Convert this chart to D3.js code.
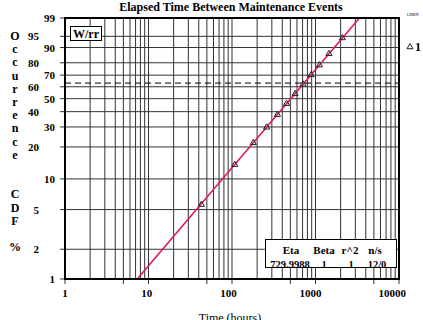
<!DOCTYPE html>
<html>
<head>
<meta charset="utf-8">
<script src="https://cdn.jsdelivr.net/npm/d3@7"></script>
<style>
	body { margin: 0; background: #fff; }
	svg { display: block; }
	text { font-family: "Liberation Serif", "Times New Roman", serif; }
</style>
</head>
<body>
<div id="chart"></div>
<script>
// Weibull plot, elapsed time between maintenance events

var width = 423,
	height = 320;

// data
var times = [43, 108, 180, 260, 350, 450, 570, 710, 885, 1115, 1450, 2100];
var cdfPct = [5.6, 13.7, 21.8, 29.8, 37.9, 46.0, 54.0, 62.1, 70.2, 78.2, 86.3, 94.4];
var eta = 729.9988,
	beta = 1;

var xTickLabels = [1, 10, 100, 1000, 10000];
var xSmallTicks = [1, 5, 10, 50, 100, 500, 1000, 5000, 10000];
var yGrid = [2, 5, 10, 20, 30, 40, 50, 60, 70, 80, 90, 95];
var yLabelsRight = [99, 90, 70, 50, 30, 10, 1];
var yLabelsLeft = [95, 80, 60, 40, 20, 5, 2];
var yTitle = ["O", "c", "c", "u", "r", "r", "e", "n", "c", "e", "", "", "C", "D", "F", "", "%"];
var tableHead = ["Eta", "Beta", "r^2", "n/s"];
var tableVals = ["729.9988", "1", "1", "12/0"];

// plot frame (window.top is taken, so prefixed names)
var pLeft = 65, pRight = 399, pTop = 18, pBottom = 279;

var svg = d3.select("#chart").append("svg")
	.attr("width", width)
	.attr("height", height);

var x = d3.scaleLog().domain([1, 10000]).range([pLeft, pRight]);

// weibull probability scale: ln(-ln(1-F))
function wb(p){ return Math.log(-Math.log(1 - p / 100)); }
var yLin = d3.scaleLinear().domain([wb(1), wb(99)]).range([pBottom, pTop]);
function y(p){ return yLin(wb(p)); }

// vertical grid, 1..9 in each decade
var xGrid = [];
for (var d = 0; d < 4; d++){
	for (var k = 1; k <= 9; k++){
		xGrid.push(k * Math.pow(10, d));
	}
}

var grid = svg.append("g").attr("class", "grid");

grid.selectAll(".vg")
	.data(xGrid)
	.enter()
	.append("line")
	.attr("class", "vg")
	.attr("x1", d => x(d))
	.attr("x2", d => x(d))
	.attr("y1", pTop)
	.attr("y2", pBottom)
	.attr("stroke", "#333")
	.attr("stroke-width", 1);

grid.selectAll(".hg")
	.data(yGrid)
	.enter()
	.append("line")
	.attr("class", "hg")
	.attr("x1", pLeft)
	.attr("x2", pRight)
	.attr("y1", d => y(d))
	.attr("y2", d => y(d))
	.attr("stroke", "#333")
	.attr("stroke-width", 1);

// 63.2% line
svg.append("line")
	.attr("x1", pLeft)
	.attr("x2", pRight)
	.attr("y1", y(63.2))
	.attr("y2", y(63.2))
	.attr("stroke", "#000")
	.attr("stroke-dasharray", "6,4");

// ticks outside the frame
svg.selectAll(".xt")
	.data(xSmallTicks)
	.enter()
	.append("line")
	.attr("x1", d => x(d))
	.attr("x2", d => x(d))
	.attr("y1", pBottom)
	.attr("y2", pBottom + 5)
	.attr("stroke", "#333");

svg.selectAll(".yt")
	.data(yLabelsLeft.concat(yLabelsRight))
	.enter()
	.append("line")
	.attr("x1", pLeft - 5)
	.attr("x2", pLeft)
	.attr("y1", d => y(d))
	.attr("y2", d => y(d))
	.attr("stroke", "#333");

// fitted line from 1% to 99%
var fitP = [1, 99];
var line = d3.line()
	.x(p => x(eta * Math.pow(-Math.log(1 - p / 100), 1 / beta)))
	.y(p => y(p));

svg.append("path")
	.datum(fitP)
	.attr("d", line)
	.attr("fill", "none")
	.attr("stroke", "#e0185c")
	.attr("stroke-width", 1.6);

// data points
var tri = d3.symbol().type(d3.symbolTriangle).size(16);
svg.selectAll(".pt")
	.data(times)
	.enter()
	.append("path")
	.attr("d", tri)
	.attr("transform", (d, i) => "translate(" + x(d) + "," + y(cdfPct[i]) + ")")
	.attr("fill", "none")
	.attr("stroke", "#222")
	.attr("stroke-width", 1);

// frame
svg.append("rect")
	.attr("x", pLeft)
	.attr("y", pTop)
	.attr("width", pRight - pLeft)
	.attr("height", pBottom - pTop)
	.attr("fill", "none")
	.attr("stroke", "#000")
	.attr("stroke-width", 2);

// W/rr box
svg.append("rect")
	.attr("x", 70.5)
	.attr("y", 26.5)
	.attr("width", 31)
	.attr("height", 14)
	.attr("fill", "#fff")
	.attr("stroke", "#000");
svg.append("text")
	.attr("x", 86)
	.attr("y", 37.5)
	.attr("text-anchor", "middle")
	.attr("font-size", 12)
	.attr("font-weight", "bold")
	.text("W/rr");

// result table
svg.append("rect")
	.attr("x", 265.5)
	.attr("y", 239.5)
	.attr("width", 131)
	.attr("height", 28)
	.attr("fill", "#fff")
	.attr("stroke", "#000");

var colX = [291, 324, 350, 375];
svg.selectAll(".th")
	.data(tableHead)
	.enter()
	.append("text")
	.attr("x", (d, i) => colX[i])
	.attr("y", 254)
	.attr("text-anchor", "middle")
	.attr("font-size", 11)
	.attr("font-weight", "bold")
	.text(d => d);

var valX = [290, 324, 351, 377];
svg.selectAll(".tv")
	.data(tableVals)
	.enter()
	.append("text")
	.attr("x", (d, i) => valX[i])
	.attr("y", 268)
	.attr("text-anchor", "middle")
	.attr("font-size", 10.5)
	.attr("font-weight", "bold")
	.text(d => d);

// axis labels
svg.selectAll(".xl")
	.data(xTickLabels)
	.enter()
	.append("text")
	.attr("x", d => x(d) - (String(d).length - 1) * 1.7)
	.attr("y", 297)
	.attr("text-anchor", "middle")
	.attr("font-size", 11)
	.attr("font-weight", "bold")
	.text(d => d);

svg.selectAll(".yl")
	.data(yLabelsRight)
	.enter()
	.append("text")
	.attr("x", 55)
	.attr("y", d => y(d) + 4)
	.attr("text-anchor", "end")
	.attr("font-size", 11)
	.attr("font-weight", "bold")
	.text(d => d);

svg.selectAll(".yl2")
	.data(yLabelsLeft)
	.enter()
	.append("text")
	.attr("x", 39)
	.attr("y", d => y(d) + 4)
	.attr("text-anchor", "end")
	.attr("font-size", 11)
	.attr("font-weight", "bold")
	.text(d => d);

// titles
svg.append("text")
	.attr("x", 231)
	.attr("y", 11)
	.attr("text-anchor", "middle")
	.attr("font-size", 12)
	.attr("font-weight", "bold")
	.text("Elapsed Time Between Maintenance Events");

svg.append("text")
	.attr("x", 230)
	.attr("y", 322)
	.attr("text-anchor", "middle")
	.attr("font-size", 12)
	.text("Time (hours)");

svg.selectAll(".yc")
	.data(yTitle)
	.enter()
	.append("text")
	.attr("x", 15)
	.attr("y", (d, i) => 40 + i * 13.2)
	.attr("text-anchor", "middle")
	.attr("font-size", 12)
	.attr("font-weight", "bold")
	.text(d => d);

// data set legend
svg.append("path")
	.attr("d", tri)
	.attr("transform", "translate(410,47)")
	.attr("fill", "none")
	.attr("stroke", "#222");
svg.append("text")
	.attr("x", 415)
	.attr("y", 51)
	.attr("font-size", 12)
	.attr("font-weight", "bold")
	.text("1");

svg.append("text")
	.attr("x", 407)
	.attr("y", 16)
	.attr("font-size", 4)
	.text("LRMN");
</script>
</body>
</html>
